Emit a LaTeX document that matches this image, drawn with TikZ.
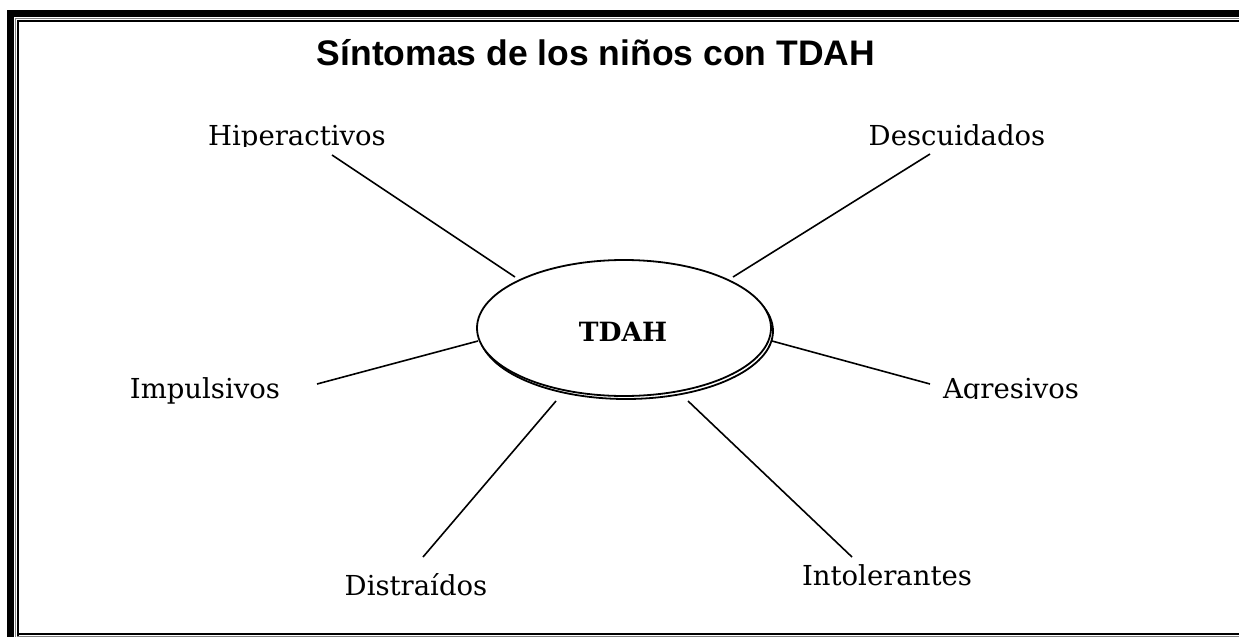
\documentclass[tikz,border=0pt]{standalone}
\usepackage{fontspec}
\setmainfont{DejaVu Serif}
\newfontfamily\ttlfont{Liberation Sans}
\usetikzlibrary{shapes.geometric}
\tikzset{
  lab/.style={anchor=base,inner sep=0pt,font=\fontsize{27.5}{30}\selectfont},
  conn/.style={line width=1.6pt,black},
  ell/.style={ellipse,draw,line width=1.8pt,fill=white,minimum width=294pt,minimum height=136pt,inner sep=0pt}
}
\begin{document}
\begin{tikzpicture}[x=1pt,y=-1pt]
\useasboundingbox (0,0) rectangle (1239,637);
% frame
\fill[black] (7,10) rectangle (1239,17);
\fill[black] (7,10) rectangle (14,637);
\draw[gray,line width=0.9pt] (15.8,637) -- (15.8,18.6) -- (1239,18.6);
\draw[black,line width=2pt] (18,637) -- (18,21) -- (1239,21);
\draw[black,line width=2.2pt] (17,634) -- (1239,634);
\draw[gray,line width=0.8pt] (17,636.3) -- (1239,636.3);
% title
\node[anchor=base,inner sep=0pt,font=\ttlfont\bfseries\fontsize{35.5}{38}\selectfont] (title) at (596,65) {Síntomas de los niños con TDAH};
% ellipse with shadow
\node[ell] (sh) at (626,331) {};
\node[ell] (el) at (624,328) {};
\node[anchor=base,inner sep=0pt,font=\bfseries\fontsize{26.5}{28}\selectfont] (tdah) at (623,341) {TDAH};
% labels
\begin{scope}
\clip (0,0) rectangle (1239,146);
\node[lab] (hip) at (297,145.5) {Hiperactivos};
\node[lab] (des) at (957,145.5) {Descuidados};
\end{scope}
\node[lab] (imp) at (205,398) {Impulsivos};
\begin{scope}
\clip (0,300) rectangle (1239,398.5);
\node[lab] (agr) at (1011,398) {Agresivos};
\end{scope}
\node[lab] (dis) at (416,595) {Distraídos};
\node[lab] (int) at (887,585) {Intolerantes};
% connector end points
\coordinate (hipE) at (332,155);
\coordinate (desE) at (930,154);
\coordinate (impE) at (317,384);
\coordinate (agrE) at (930,384);
\coordinate (disE) at (423,557);
\coordinate (intE) at (852,557);
\coordinate (elHip) at (515,277);
\coordinate (elDes) at (733,277);
\coordinate (elImp) at (478,341);
\coordinate (elAgr) at (772,341);
\coordinate (elDis) at (556,401);
\coordinate (elInt) at (688,401);
\draw[conn] (hipE) -- (elHip);
\draw[conn] (desE) -- (elDes);
\draw[conn] (impE) -- (elImp);
\draw[conn] (agrE) -- (elAgr);
\draw[conn] (disE) -- (elDis);
\draw[conn] (intE) -- (elInt);
\end{tikzpicture}
\end{document}
